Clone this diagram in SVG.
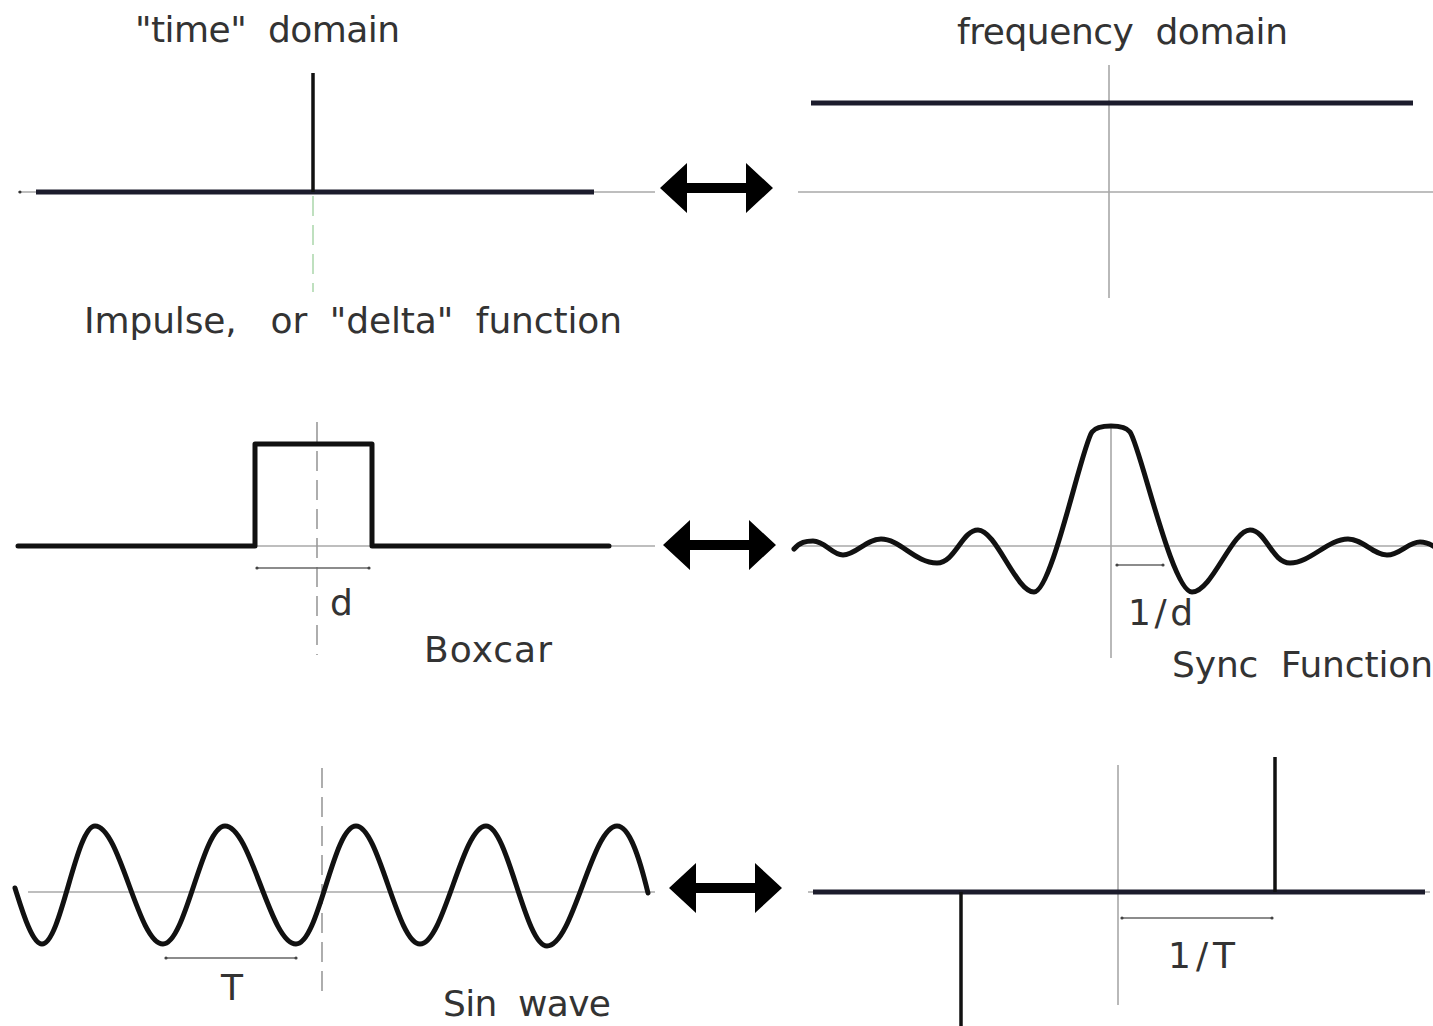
<svg xmlns="http://www.w3.org/2000/svg" width="1433" height="1026" viewBox="0 0 1433 1026">
<style>
.t{font-family:"DejaVu Sans","Liberation Sans",sans-serif;font-size:36px;fill:#333;white-space:pre}
.axis{stroke:#a8a8a8;stroke-width:1.6;fill:none}
.sig{stroke:#111;stroke-width:5;fill:none;stroke-linejoin:round;stroke-linecap:round}
.base{stroke:#1c1c2c;stroke-width:5;fill:none}
.spike{stroke:#111;stroke-width:3.5;fill:none}
.dash{stroke:#9a9a9a;stroke-width:1.6;stroke-dasharray:20 9;fill:none}
.dim{stroke:#666;stroke-width:1.4;fill:none;marker-start:url(#dot);marker-end:url(#dot)}
</style>
<defs>
<marker id="dot" viewBox="0 0 4 4" refX="2" refY="2" markerWidth="4" markerHeight="4" markerUnits="userSpaceOnUse"><circle cx="2" cy="2" r="1.6" fill="#444"/></marker>
<path id="dbl" d="M0,0 L27,-25 L27,-5 L86,-5 L86,-25 L113,0 L86,25 L86,5 L27,5 L27,25 Z" fill="#000"/>
</defs>

<g id="header-time"><text class="t" x="135" y="42" textLength="265" lengthAdjust="spacing" xml:space="preserve">"time"  domain</text></g>
<g id="header-freq"><text class="t" x="957" y="44" textLength="331" lengthAdjust="spacing" xml:space="preserve">frequency  domain</text></g>

<g id="impulse-time">
<line class="axis" x1="18" y1="192" x2="655" y2="192"/>
<circle cx="20" cy="192" r="1.5" fill="#333"/>
<line class="base" x1="36" y1="192" x2="594" y2="192"/>
<line class="spike" x1="313" y1="73" x2="313" y2="192"/>
<line x1="313" y1="196" x2="313" y2="292" stroke="#bfe0bf" stroke-width="2" stroke-dasharray="20 9"/>
<text class="t" x="84" y="333" textLength="538" lengthAdjust="spacing" xml:space="preserve">Impulse,   or  "delta"  function</text>
</g>

<g id="impulse-freq">
<line class="axis" x1="798" y1="192" x2="1433" y2="192"/>
<line class="axis" x1="1109" y1="65" x2="1109" y2="298"/>
<line class="base" x1="811" y1="103" x2="1413" y2="103"/>
</g>

<g id="boxcar-time">
<line class="axis" x1="18" y1="546" x2="655" y2="546"/>
<line class="dash" x1="317" y1="422" x2="317" y2="655"/>
<path class="sig" d="M18,546 L255,546 L255,444 L372,444 L372,546 L609,546" stroke-linecap="butt"/>
<line class="dim" x1="257" y1="568" x2="369" y2="568"/>
<text class="t" x="330" y="615">d</text>
<text class="t" x="424" y="662" textLength="128" lengthAdjust="spacing">Boxcar</text>
</g>

<g id="sync-freq">
<line class="axis" x1="794" y1="546" x2="1433" y2="546"/>
<line class="axis" x1="1111" y1="425" x2="1111" y2="658"/>
<path class="sig" d="M794,549 C800,542 806,541 813,541 C825,541 832,555 843,555 C856,555 866,539 881,539 C900,539 915,563 937,563 C955,563 962,530 978,530 C996,530 1016,592 1034,592 C1052,592 1082,445 1092,432 C1098,424 1124,424 1130,432 C1140,445 1172,592 1192,592 C1212,592 1232,530 1250,530 C1266,530 1272,563 1290,563 C1310,563 1328,539 1348,539 C1363,539 1373,555 1387,555 C1400,555 1408,542 1420,542 C1427,542 1430,544 1433,546"/>
<line class="dim" x1="1117" y1="565" x2="1163" y2="565"/>
<text class="t" x="1128" y="625" textLength="65" lengthAdjust="spacing">1/d</text>
<text class="t" x="1172" y="677" textLength="261" lengthAdjust="spacing" xml:space="preserve">Sync  Function</text>
</g>

<g id="sine-time">
<line class="axis" x1="28" y1="892" x2="655" y2="892"/>
<line class="dash" x1="322" y1="768" x2="322" y2="1000"/>
<path class="sig" d="M15,888 C22,910 32,944 42,944 C61,944 76,826 95,826 C120,826 138,944 163,944 C186,944 202,826 225,826 C251,826 270,944 296,944 C319,944 333,826 356,826 C379,826 397,944 420,944 C444,944 462,826 486,826 C508,826 525,946 547,946 C573,946 592,826 617,826 C630,826 640,860 648,893"/>
<line class="dim" x1="166" y1="958" x2="296" y2="958"/>
<text class="t" x="221" y="1000">T</text>
<text class="t" x="443" y="1016" textLength="168" lengthAdjust="spacing" xml:space="preserve">Sin  wave</text>
</g>

<g id="sine-freq">
<line class="axis" x1="808" y1="892" x2="1430" y2="892"/>
<line class="axis" x1="1118" y1="765" x2="1118" y2="1005"/>
<line class="base" x1="813" y1="892" x2="1425" y2="892"/>
<line class="spike" x1="1275" y1="757" x2="1275" y2="892"/>
<line class="spike" x1="961" y1="892" x2="961" y2="1026"/>
<line class="dim" x1="1122" y1="918" x2="1272" y2="918"/>
<text class="t" x="1168" y="968" textLength="67" lengthAdjust="spacing">1/T</text>
</g>

<g id="connectors">
<use href="#dbl" transform="translate(660,188)"/>
<use href="#dbl" transform="translate(663,545)"/>
<use href="#dbl" transform="translate(669,888)"/>
</g>
</svg>
